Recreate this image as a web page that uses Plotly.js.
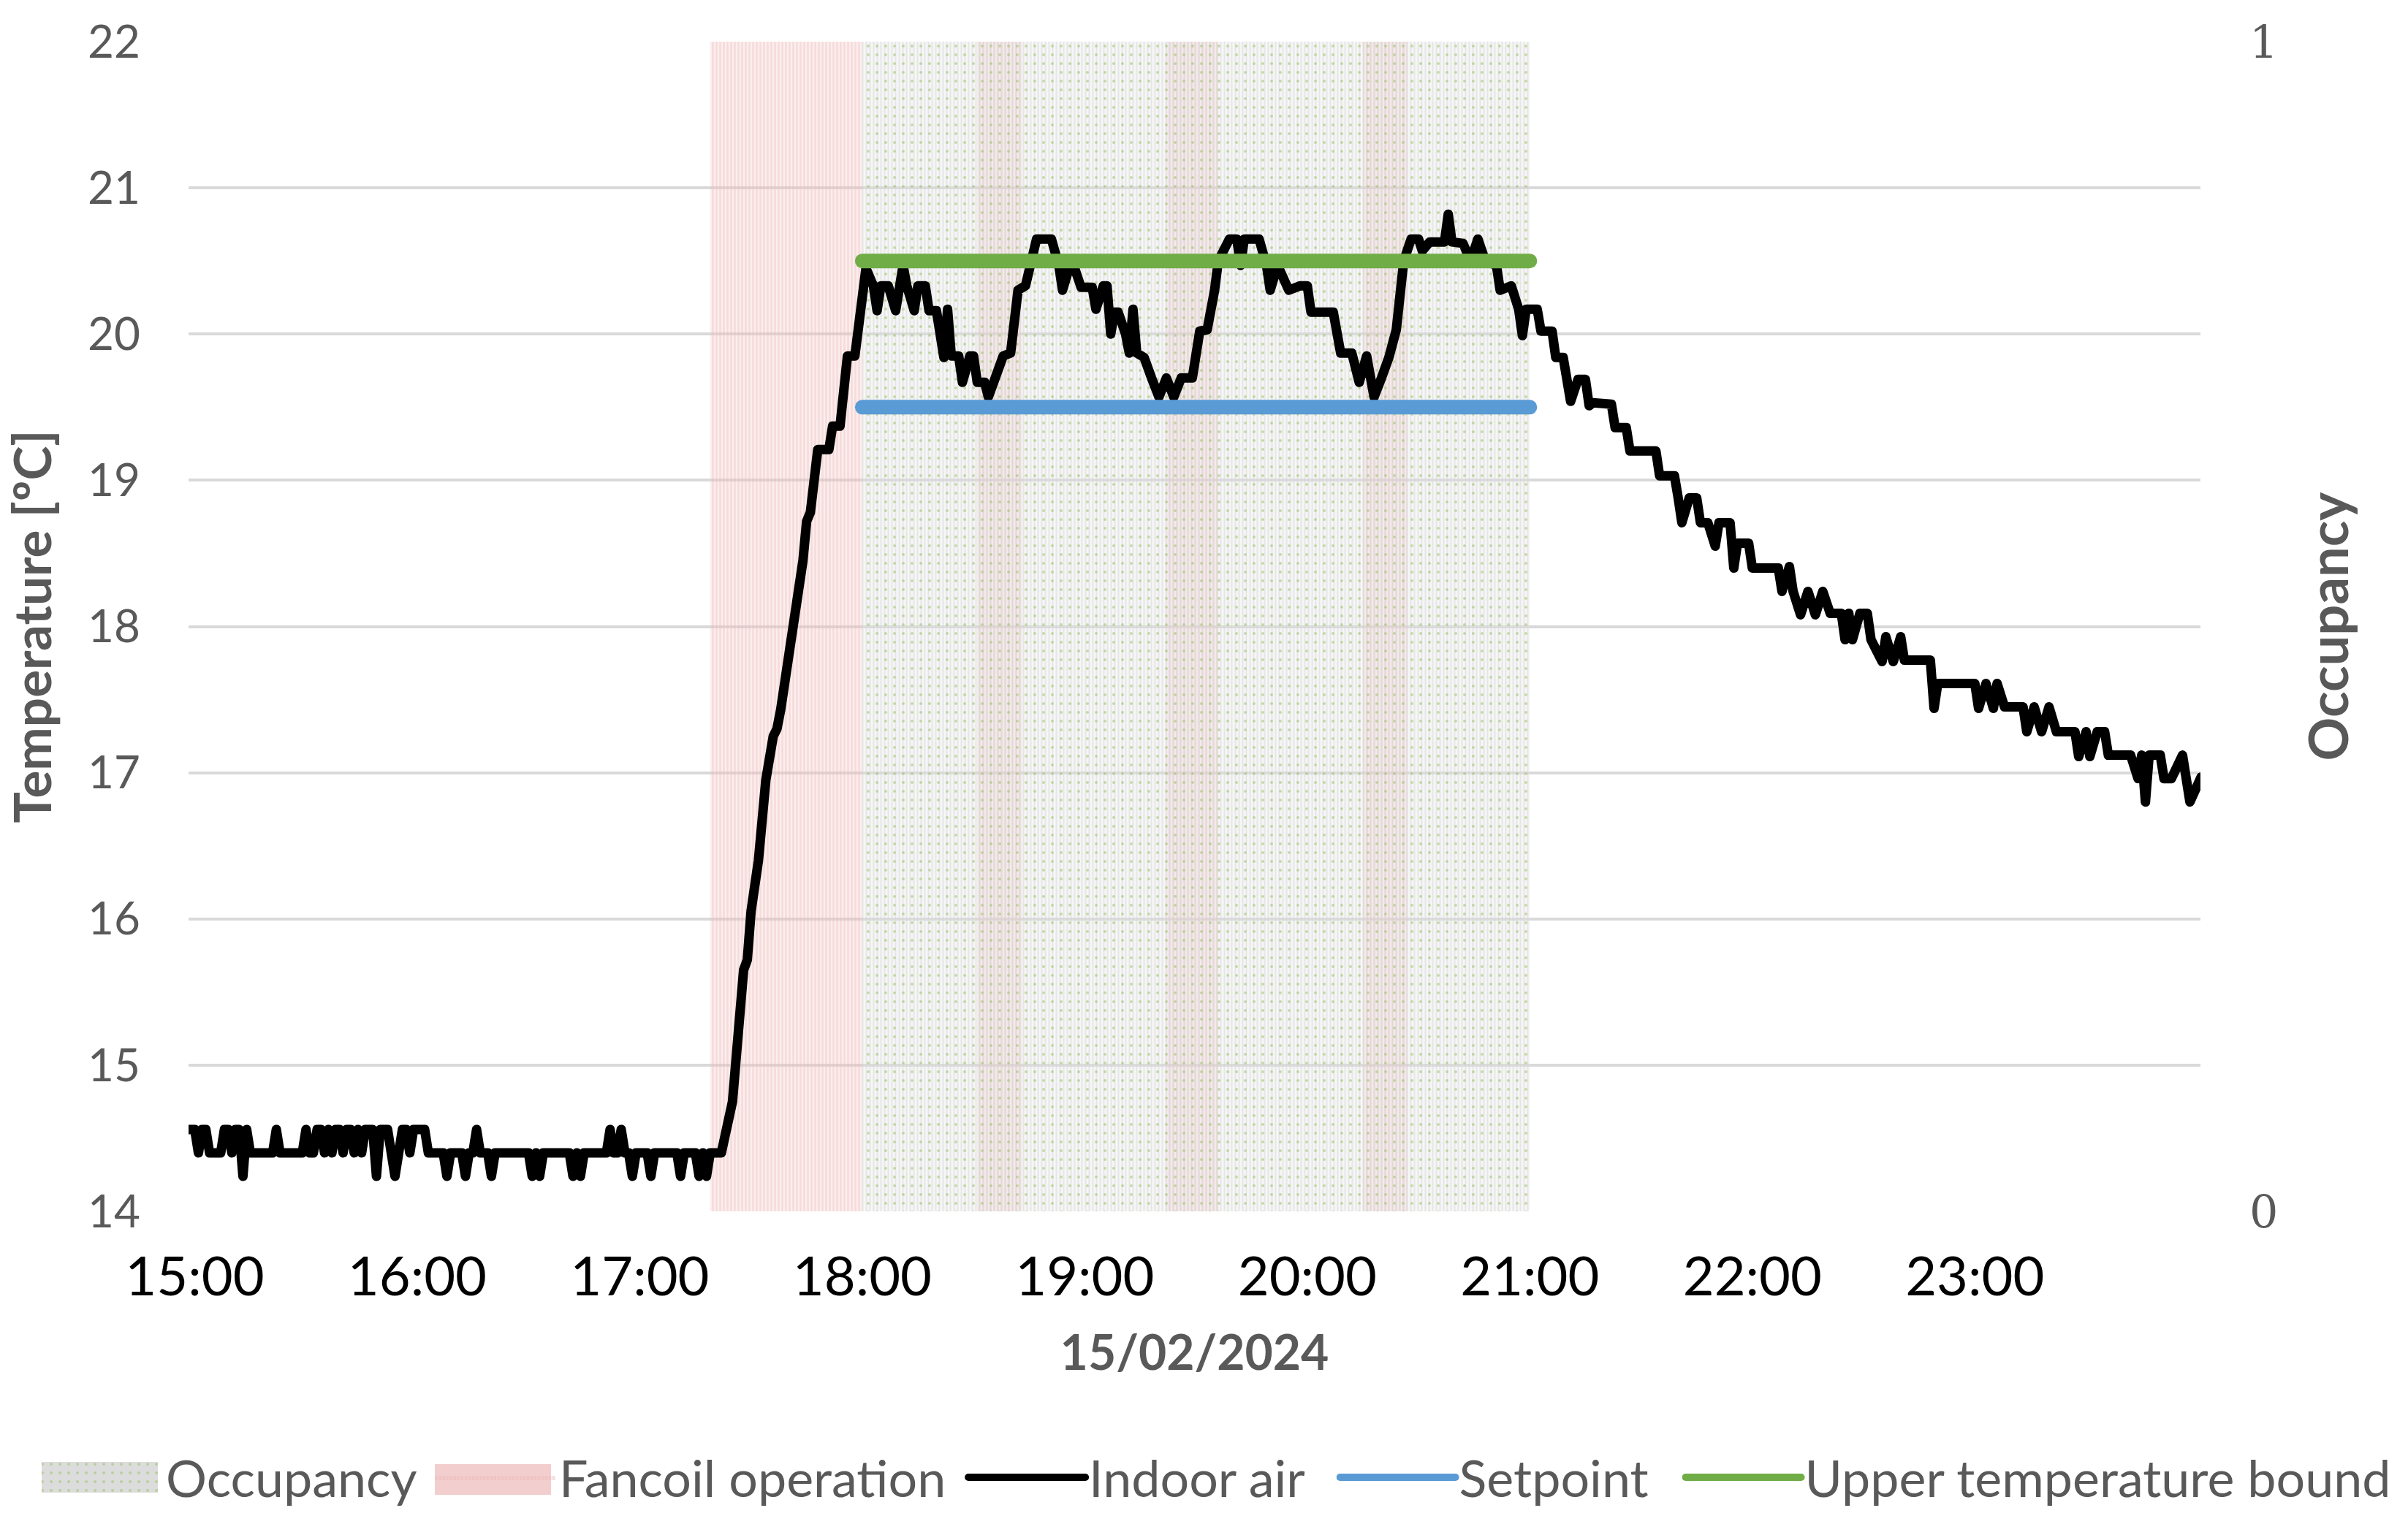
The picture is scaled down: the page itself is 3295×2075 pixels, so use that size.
<!DOCTYPE html>
<html><head><meta charset="utf-8">
<script src="https://cdn.plot.ly/plotly-3.0.1.min.js"></script>
<style>
html,body{margin:0;padding:0;background:#fff;}
#chart{width:3295px;height:2075px;}
.scatterlayer .js-line, .legendlines path {stroke-linecap: round; stroke-linejoin: round;}
</style></head><body><div id="chart"></div>
<script>
// ---- data ----
const hourTicks = ['15:00','16:00','17:00','18:00','19:00','20:00','21:00','22:00','23:00'];
const occupancyStart = ['18:00'];
const occupancyEnd = ['21:00'];
const fancoilStart = ['17:19','18:31','19:22','20:15'];
const fancoilEnd = ['18:00','18:43','19:36','20:27'];
const boundTime = ['18:00','21:00'];
const setpointTemp = [19.5, 19.5];
const upperBoundTemp = [20.5, 20.5];
const indoorTime = [
'14:58','15:00','15:01','15:02','15:03','15:04','15:07','15:08','15:09','15:10','15:11','15:12','15:13','15:14','15:15',
'15:21','15:22','15:23','15:29','15:30','15:31','15:32','15:33','15:34','15:35','15:36','15:37','15:38','15:39','15:40',
'15:41','15:42','15:43','15:44','15:45','15:46','15:47','15:48','15:49','15:50','15:51','15:52','15:53','15:54','15:55',
'15:56','15:57','15:58','15:59','16:00','16:01','16:02','16:03','16:07','16:08','16:09','16:12','16:13','16:14','16:15',
'16:16','16:17','16:19','16:20','16:21','16:30','16:31','16:32','16:33','16:34','16:41','16:42','16:43','16:44','16:45',
'16:51','16:52','16:53','16:54','16:55','16:56','16:57','16:58','16:59','17:02','17:03','17:04','17:10','17:11','17:12',
'17:15','17:16','17:17','17:18','17:19','17:22',
'17:25','17:28','17:29','17:30','17:32','17:34','17:36','17:37','17:38','17:40','17:42','17:44','17:45','17:46','17:48',
'17:51','17:52','17:54','17:56','17:58','18:01','18:03','18:04','18:05','18:07','18:09','18:11','18:12','18:14','18:15',
'18:17','18:18','18:20','18:21','18:22','18:23','18:24','18:26','18:27','18:29','18:30','18:31','18:33','18:34','18:36',
'18:38','18:40','18:42','18:44','18:47','18:51','18:53','18:54','18:56','18:57','18:59','19:02','19:03','19:05','19:06',
'19:07','19:08','19:09','19:11','19:12','19:13','19:14','19:16','19:18','19:20','19:22','19:24','19:26','19:29','19:31',
'19:33','19:35','19:36','19:39','19:41','19:42','19:43','19:47','19:49','19:50','19:52','19:55','19:58','20:00','20:01',
'20:07','20:08','20:09','20:12','20:14','20:16','20:18','20:20','20:22','20:24','20:25','20:26','20:28','20:30','20:31',
'20:33','20:37','20:38','20:39','20:42','20:44','20:46','20:48','20:51','20:52','20:55','20:57','20:58','20:59','21:02',
'21:03','21:06','21:07','21:09','21:11','21:13','21:15','21:16','21:17','21:22','21:23','21:26','21:27','21:34','21:35',
'21:39','21:40','21:41','21:43','21:45','21:46','21:48','21:50','21:51','21:54','21:55','21:56','21:59','22:00','22:07',
'22:08','22:10','22:11','22:13','22:15','22:17','22:19','22:21','22:24','22:25','22:26','22:27','22:29','22:31','22:32',
'22:35','22:36','22:38','22:40','22:41','22:48','22:49','22:50','23:00','23:01','23:03','23:05','23:06','23:08','23:13',
'23:14','23:16','23:18','23:20','23:22','23:27','23:28','23:30','23:31','23:33','23:35','23:36','23:42','23:44','23:45',
'23:46','23:47','23:50','23:51','23:53','23:56','23:58','24:01'];
const indoorTemp = [
14.56,14.56,14.40,14.56,14.56,14.40,14.40,14.56,14.56,14.40,14.56,14.56,14.24,14.56,14.40,
14.40,14.56,14.40,14.40,14.56,14.40,14.40,14.56,14.56,14.40,14.56,14.40,14.56,14.56,14.40,
14.56,14.56,14.40,14.56,14.40,14.56,14.56,14.56,14.24,14.56,14.56,14.56,14.40,14.24,14.40,
14.56,14.56,14.40,14.56,14.56,14.56,14.56,14.40,14.40,14.24,14.40,14.40,14.24,14.40,14.40,
14.56,14.40,14.40,14.24,14.40,14.40,14.24,14.40,14.24,14.40,14.40,14.24,14.40,14.24,14.40,
14.40,14.56,14.40,14.40,14.56,14.40,14.40,14.24,14.40,14.40,14.24,14.40,14.40,14.24,14.40,
14.40,14.24,14.40,14.24,14.40,14.40,
14.75,15.65,15.72,16.05,16.40,16.95,17.25,17.30,17.43,17.75,18.08,18.45,18.72,18.78,19.21,
19.21,19.37,19.37,19.85,19.85,20.45,20.33,20.16,20.33,20.33,20.16,20.47,20.33,20.16,20.33,
20.33,20.16,20.16,20.00,19.84,20.17,19.85,19.85,19.67,19.85,19.85,19.67,19.67,19.57,19.70,
19.85,19.87,20.30,20.33,20.65,20.65,20.47,20.30,20.47,20.47,20.32,20.32,20.17,20.33,20.33,
20.00,20.15,20.15,20.00,19.87,20.17,19.87,19.84,19.70,19.57,19.70,19.57,19.70,19.70,20.02,
20.03,20.30,20.50,20.65,20.65,20.47,20.65,20.65,20.47,20.30,20.47,20.30,20.33,20.33,20.15,
20.15,20.00,19.87,19.87,19.67,19.85,19.57,19.70,19.84,20.03,20.32,20.50,20.65,20.65,20.57,
20.63,20.63,20.82,20.63,20.62,20.50,20.65,20.50,20.47,20.30,20.33,20.17,19.99,20.17,20.17,
20.02,20.02,19.84,19.84,19.54,19.69,19.69,19.51,19.53,19.52,19.36,19.36,19.20,19.20,19.03,
19.03,18.88,18.71,18.88,18.88,18.71,18.71,18.55,18.71,18.71,18.40,18.57,18.57,18.40,18.40,
18.24,18.41,18.24,18.08,18.24,18.08,18.24,18.09,18.09,17.91,18.09,17.91,18.09,18.09,17.91,
17.76,17.93,17.76,17.93,17.77,17.77,17.44,17.61,17.61,17.44,17.61,17.44,17.61,17.45,17.45,
17.28,17.45,17.28,17.45,17.28,17.28,17.11,17.28,17.11,17.28,17.28,17.12,17.12,16.96,17.12,
16.80,17.12,17.12,16.96,16.96,17.12,16.80,16.97];

// ---- helpers ----
function pad(n){return (n<10?'0':'')+n;}
function toDate(hm){
  let p = hm.split(':').map(Number); let h = p[0], m = p[1], d = 15;
  if (h >= 24) { h -= 24; d = 16; }
  return '2024-02-' + d + ' ' + pad(h) + ':' + pad(m);
}
function stepSeries(starts, ends){
  const x = [], y = [];
  for (let i = 0; i < starts.length; i++) { x.push(toDate(starts[i]), toDate(ends[i])); y.push(1, 0); }
  return {x, y};
}
const occ = stepSeries(occupancyStart, occupancyEnd);
const fan = stepSeries(fancoilStart, fancoilEnd);

const traces = [
  {name:'Fancoil operation', legend:'legend2', x:fan.x, y:fan.y, yaxis:'y', type:'scatter', mode:'lines',
   line:{shape:'hv', width:0, color:'rgba(0,0,0,0)'}, fill:'tozeroy', fillcolor:'rgba(240,190,190,0.26)',
   fillpattern:{shape:'|', fgcolor:'rgba(238,184,184,0.75)', size:5, solidity:0.5, fillmode:'overlay'},
   hoverinfo:'skip'},
  {name:'Occupancy stripes', x:occ.x, y:occ.y, yaxis:'y', type:'scatter', mode:'lines', showlegend:false,
   line:{shape:'hv', width:0, color:'rgba(0,0,0,0)'}, fill:'tozeroy', fillcolor:'rgba(0,0,0,0)',
   fillpattern:{shape:'|', fgcolor:'rgba(200,200,200,0.42)', bgcolor:'rgba(0,0,0,0)', size:5, solidity:0.4, fillmode:'replace'},
   hoverinfo:'skip'},
  {name:'Occupancy', legend:'legend', x:occ.x, y:occ.y, yaxis:'y', type:'scatter', mode:'lines',
   line:{shape:'hv', width:0, color:'rgba(0,0,0,0)'}, fill:'tozeroy', fillcolor:'rgba(228,228,228,0.32)',
   fillpattern:{shape:'.', fgcolor:'#93c25c', size:12, solidity:0.09, fillmode:'overlay'},
   hoverinfo:'skip'},
  {name:'Indoor air', legend:'legend3', x:indoorTime.map(toDate), y:indoorTemp, yaxis:'y2', type:'scatter', mode:'lines',
   line:{color:'#000000', width:13}},
  {name:'Setpoint', legend:'legend4', x:boundTime.map(toDate), y:setpointTemp, yaxis:'y2', type:'scatter', mode:'lines',
   line:{color:'#5b9bd5', width:20}},
  {name:'Upper temperature bound', legend:'legend5', x:boundTime.map(toDate), y:upperBoundTemp, yaxis:'y2', type:'scatter', mode:'lines',
   line:{color:'#70ad47', width:20}}
];

const legendBase = {orientation:'h', y:-0.2274, yanchor:'middle', xanchor:'left',
  font:{size:70, color:'#595959', family:'Lato, sans-serif'}, bgcolor:'rgba(0,0,0,0)', borderwidth:0};

// plot area in pixels, used to place the fancoil legend box in paper units
const plotL = 258, plotW = 2753, plotB = 1658, plotH = 1601;
const fanBox = {x0:(595 - plotL)/plotW, x1:(754 - plotL)/plotW, y0:(plotB - 2046)/plotH, y1:(plotB - 2004)/plotH};

const layout = {
  width:3295, height:2075,
  margin:{l:258, r:284, t:57, b:417, pad:0, autoexpand:false},
  paper_bgcolor:'#ffffff', plot_bgcolor:'rgba(0,0,0,0)',
  font:{family:'Lato, sans-serif', color:'#595959'},
  showlegend:true,
  xaxis:{type:'date', range:['2024-02-15 14:58:20','2024-02-16 00:00:50'],
    tickvals:hourTicks.map(toDate), ticktext:hourTicks, showgrid:false, zeroline:false, showline:false,
    ticks:'', tickfont:{size:74, color:'#000000'}, ticklabelstandoff:40, automargin:false,
    title:{text:'15/02/2024', font:{size:66, color:'#595959', weight:'bold'}, standoff:40}},
  yaxis:{range:[0,1], tickvals:[0,1], ticktext:['0','1'], side:'right', showgrid:false, zeroline:false, showline:false,
    ticks:'', tickfont:{family:'DejaVu Serif, serif', size:62, color:'#595959'}, ticklabelstandoff:66, automargin:false,
    title:{text:'Occupancy', font:{size:74, color:'#595959', weight:'bold'}, standoff:44}},
  yaxis2:{range:[14,22], dtick:1, tick0:14, overlaying:'y', side:'left', showgrid:true, gridcolor:'#d9d9d9', gridwidth:4,
    zeroline:false, showline:false, ticks:'', tickfont:{size:62, color:'#595959'}, ticklabelstandoff:65, automargin:false,
    title:{text:'Temperature [ºC]', font:{size:71, color:'#595959', weight:'bold'}, standoff:35}},
  shapes:[{type:'rect', xref:'paper', yref:'paper', x0:fanBox.x0, x1:fanBox.x1, y0:fanBox.y0, y1:fanBox.y1,
    fillcolor:'#f2cece', line:{width:0}, layer:'above'}],
  legend: Object.assign({}, legendBase, {x:-0.0748, itemwidth:165}),
  legend2: Object.assign({}, legendBase, {x:0.1206, itemwidth:165}),
  legend3: Object.assign({}, legendBase, {x:0.3858, itemwidth:160}),
  legend4: Object.assign({}, legendBase, {x:0.5705, itemwidth:158}),
  legend5: Object.assign({}, legendBase, {x:0.7423, itemwidth:158})
};

const swatchColor = {'occupancy':'#d9d9d9', 'fancoil':'#f2cece'};
function fixLegendSwatches(gd){
  // enlarge the area swatches of the legends to box shape
  gd.querySelectorAll('g.traces').forEach(function(tr){
    const txt = tr.querySelector('.legendtext');
    if (!txt) return;
    const name = txt.textContent.replace(/[\s\u00a0]+/g, ' ').trim().toLowerCase();
    const key = name.indexOf('fancoil') === 0 ? 'fancoil' : (name === 'occupancy' ? 'occupancy' : null);
    if (!key) return;
    const d = 'M5,-21h159v42h-159z';
    tr.querySelectorAll('.legendfill path').forEach(function(p){ p.setAttribute('d', d); });
    const first = tr.querySelector('.legendfill path');
    if (!first) return;
    if (!tr.querySelector('.swatch-bg')) {
      const bg = document.createElementNS('http://www.w3.org/2000/svg', 'path');
      bg.setAttribute('class', 'swatch-bg');
      bg.setAttribute('d', d);
      bg.style.fill = swatchColor[key];
      bg.style.fillOpacity = 1;
      first.parentNode.insertBefore(bg, first);
    }
  });
}

Plotly.newPlot('chart', traces, layout, {displayModeBar:false, staticPlot:true}).then(function(gd){
  fixLegendSwatches(gd);
  gd.on('plotly_afterplot', function(){ fixLegendSwatches(gd); });
});
</script></body></html>
